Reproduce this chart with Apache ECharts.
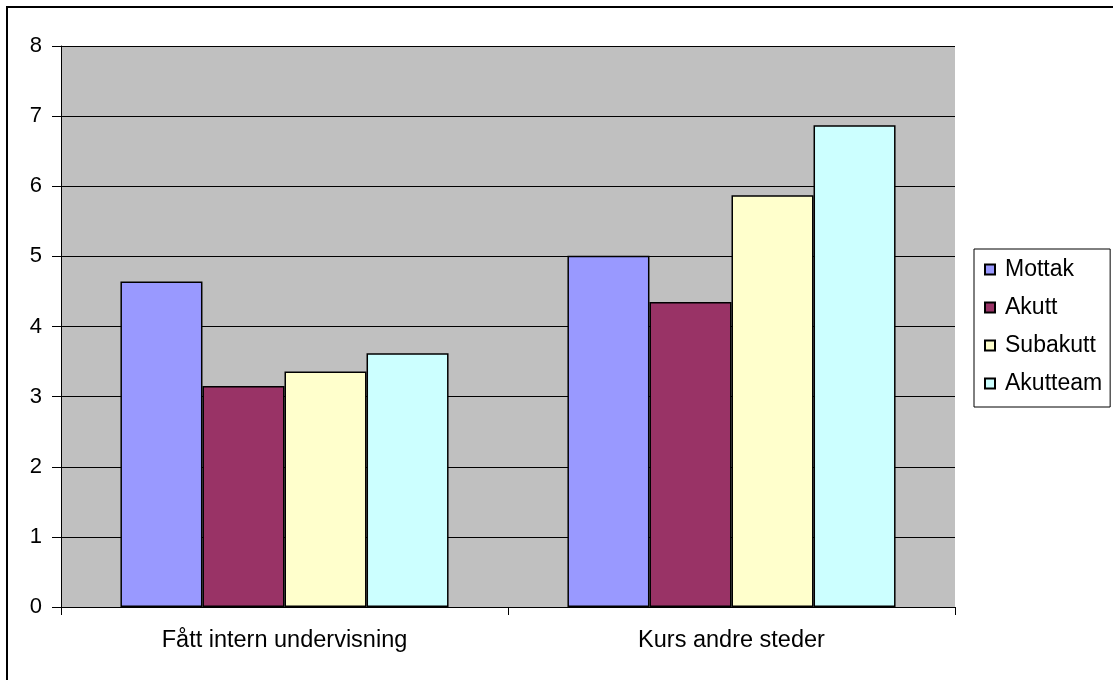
<!DOCTYPE html>
<html>
<head>
<meta charset="utf-8">
<script src="https://cdn.jsdelivr.net/npm/echarts@6/dist/echarts.min.js"></script>
<style>
	html, body { margin: 0; padding: 0; background: #fff; }
	#chart { width: 1113px; height: 680px; }
</style>
</head>
<body>
<div id="chart"></div>
<script>
const categories = ['Fått intern undervisning', 'Kurs andre steder']
const seriesNames = ['Mottak', 'Akutt', 'Subakutt', 'Akutteam']
const mottak = [4.64, 5.01]
const akutt = [3.15, 4.35]
const subakutt = [3.36, 5.87]
const akutteam = [3.62, 6.87]
const colors = ['#9999FF', '#993366', '#FFFFCC', '#CCFFFF']

const chart = echarts.init(document.getElementById('chart'))
const font = 'Liberation Sans, Arial, sans-serif'

const values = [mottak, akutt, subakutt, akutteam]

const option = {
	backgroundColor: '#fff',
	animation: false,
	textStyle: { fontFamily: font },
	graphic: [{
		type: 'rect',
		shape: { x: 7, y: 7, width: 1300, height: 900 },
		style: { fill: 'none', stroke: '#000', lineWidth: 2 },
		z: -1
	}],
	grid: { left: 61, right: 158, top: 46, bottom: 73, backgroundColor: '#C0C0C0', show: true, borderWidth: 0 },
	legend: {
		orient: 'vertical',
		left: 974,
		top: 249,
		padding: [9, 8, 12, 10],
		itemWidth: 10,
		itemHeight: 10,
		itemGap: 15,
		backgroundColor: '#fff',
		borderColor: '#000',
		borderWidth: 1,
		icon: 'rect',
		textStyle: { fontSize: 23, color: '#000', fontFamily: font, padding: [0, 0, 0, 5] },
		data: seriesNames
	},
	xAxis: {
		type: 'category',
		data: categories,
		axisLine: { lineStyle: { color: '#000', width: 1 } },
		axisTick: { show: true, length: 8, lineStyle: { color: '#000' } },
		axisLabel: { fontSize: 23.5, color: '#000', margin: 22, fontFamily: font }
	},
	yAxis: {
		type: 'value',
		min: 0,
		max: 8,
		interval: 1,
		axisLine: { show: true, lineStyle: { color: '#000', width: 1 } },
		axisTick: { show: true, length: 9, lineStyle: { color: '#000' } },
		axisLabel: { fontSize: 22, color: '#000', margin: 19, fontFamily: font },
		splitLine: { show: true, lineStyle: { color: '#000', width: 1 } }
	},
	series: seriesNames.map((name, i) => ({
		name: name,
		type: 'bar',
		data: values[i],
		barGap: '0%',
		barCategoryGap: '26.6%',
		itemStyle: { color: colors[i], borderColor: '#000', borderWidth: 1.5 }
	}))
}

chart.setOption(option)
</script>
</body>
</html>
